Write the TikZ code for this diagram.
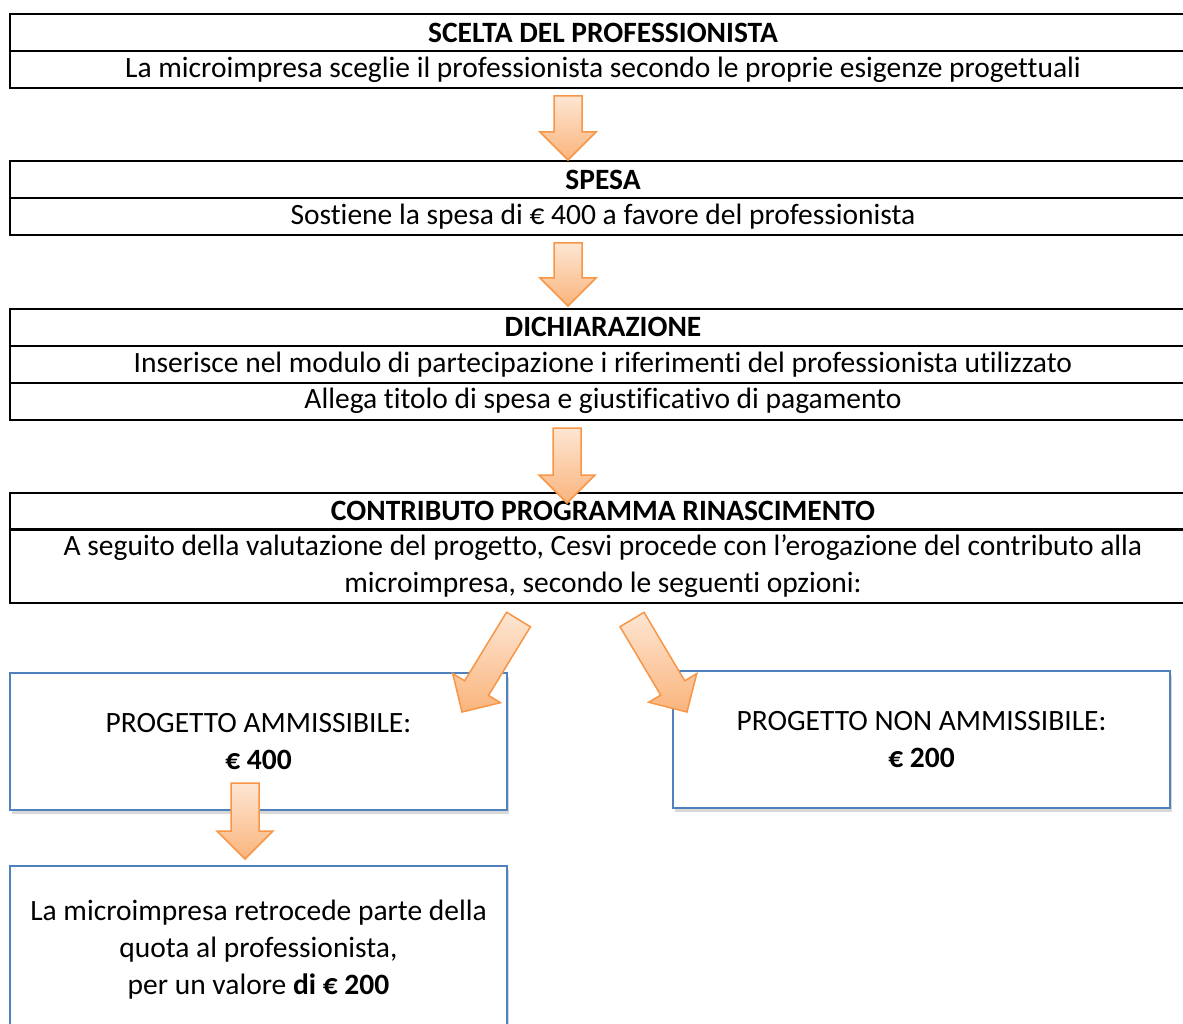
\documentclass[tikz,border=0pt]{standalone}
\usepackage{fontspec}
\setmainfont{Carlito}[Ligatures=NoCommon]
\usepackage{tikz}
\usetikzlibrary{calc,shadows}
\definecolor{boxblue}{HTML}{4F81BD}
\definecolor{arrline}{HTML}{F79646}
\definecolor{arrtop}{HTML}{FDE6D3}
\definecolor{arrbot}{HTML}{FAB47C}
\newcommand{\fsz}{\fontsize{29.5}{37}\selectfont}
\tikzset{row/.style={draw,line width=2pt,minimum width=1186pt,minimum height=37pt,inner sep=0pt,align=center,font=\fsz},
    opt/.style={draw=boxblue,line width=1.5pt,fill=white,minimum width=497pt,minimum height=137pt,inner sep=0pt,align=center,font=\fsz,
        drop shadow={opacity=0.3,shadow xshift=2pt,shadow yshift=-4pt}},
    barrow/.style={draw=arrline,line width=1.5pt,top color=arrtop,bottom color=arrbot,line join=miter}}
% block arrow from tail #1 to tip #2
\newcommand{\blockarrow}[2]{%
    \coordinate (neck) at ($(#2)!28pt!(#1)$);
    \draw[barrow] ($(#1)!14pt!90:(#2)$) -- ($(neck)!14pt!-90:(#1)$) -- ($(neck)!28pt!-90:(#1)$) -- (#2)
        -- ($(neck)!28pt!90:(#1)$) -- ($(neck)!14pt!90:(#1)$) -- ($(#1)!14pt!-90:(#2)$) -- cycle;}

\begin{document}
\begin{tikzpicture}[x=1pt,y=-1pt]
    \useasboundingbox (0,0) rectangle (1183,1024);
    \fill[white] (0,0) rectangle (1183,1024);

    \node[row] (scelta)at (603,32.5) {\textbf{SCELTA DEL PROFESSIONISTA}};
    \node[row] (sceltatxt)at (603,69.5) {La microimpresa sceglie il professionista secondo le proprie esigenze progettuali};
    \node[row] (spesa)at (603,179.5) {\textbf{SPESA}};
    \node[row] (spesatxt)at (603,216.5) {Sostiene la spesa di € 400 a favore del professionista};
    \node[row] (dich)at (603,327) {\textbf{DICHIARAZIONE}};
    \node[row] (dichtxt)at (603,364.5) {Inserisce nel modulo di partecipazione i riferimenti del professionista utilizzato};
    \node[row] (allega)at (603,401) {Allega titolo di spesa e giustificativo di pagamento};
    \node[row] (contr)at (603,511) {\textbf{CONTRIBUTO PROGRAMMA RINASCIMENTO}};
    \node[row,minimum height=74pt] (contrtxt)at (603,566) {A seguito della valutazione del progetto, Cesvi procede con l’erogazione del contributo alla\\microimpresa, secondo le seguenti opzioni:};

    \node[opt] (amm)at (258.5,741.5) {PROGETTO AMMISSIBILE:\\\textbf{€ 400}};
    \node[opt] (nonamm)at (921.5,739.5) {PROGETTO NON AMMISSIBILE:\\\textbf{€ 200}};
    \node[opt,minimum height=168pt] (retro)at (258.5,950) {La microimpresa retrocede parte della\\quota al professionista,\\per un valore \textbf{di € 200}};

    \coordinate (a1t) at (568,96);
    \coordinate (a1h) at (568,160);
    \coordinate (a2t) at (568,243);
    \coordinate (a2h) at (568,306);
    \coordinate (a3t) at (567,428);
    \coordinate (a3h) at (567,503);
    \coordinate (a4t) at (518.5,619.5);
    \coordinate (a4h) at (462,712);
    \coordinate (a5t) at (632,619.5);
    \coordinate (a5h) at (687,712);
    \coordinate (a6t) at (245,783);
    \coordinate (a6h) at (245,859);

    \blockarrow{a1t}{a1h}
    \blockarrow{a2t}{a2h}
    \blockarrow{a3t}{a3h}
    \blockarrow{a4t}{a4h}
    \blockarrow{a5t}{a5h}
    \blockarrow{a6t}{a6h}
\end{tikzpicture}
\end{document}
